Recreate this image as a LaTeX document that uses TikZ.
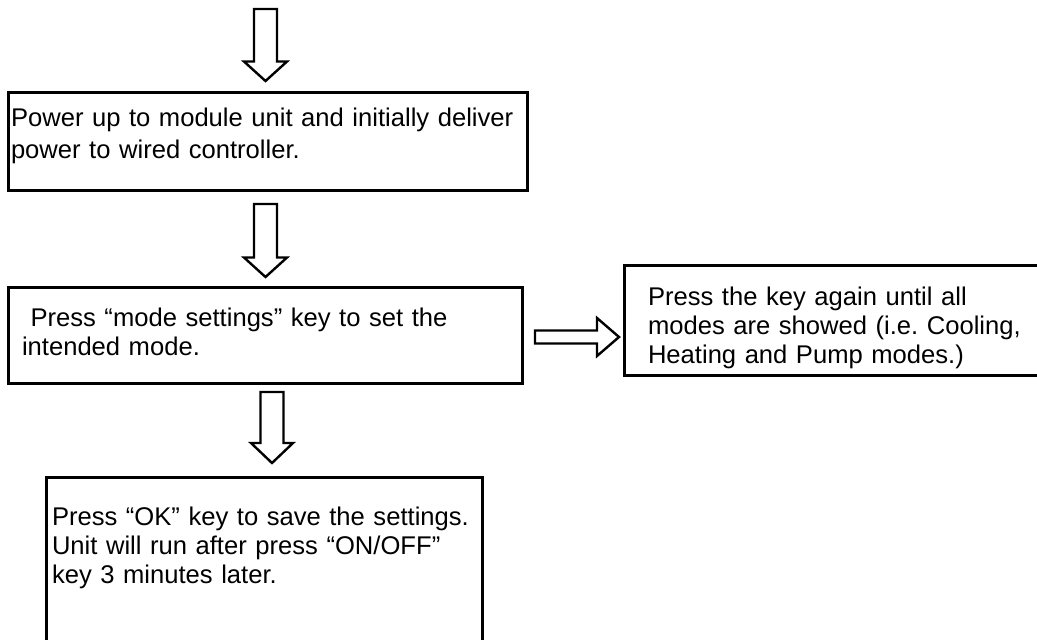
\documentclass[tikz,border=0pt]{standalone}
\usepackage{fontspec}
\setmainfont{Liberation Sans}
\frenchspacing
\usetikzlibrary{calc}

% hollow block arrow: from, to, half shaft, half head, head length
\newcommand{\fatarrow}[5]{%
  \coordinate (fahead) at ($(#2)!#5!(#1)$);
  \draw[hollow] ($(#1)!#3!90:(#2)$) -- ($(fahead)!#3!90:(#2)$)
    -- ($(fahead)!#4!90:(#2)$) -- (#2) -- ($(fahead)!#4!-90:(#2)$)
    -- ($(fahead)!#3!-90:(#2)$) -- ($(#1)!#3!-90:(#2)$) -- cycle;}

\begin{document}
\begin{tikzpicture}[
    x=0.5pt, y=-0.5pt,
    font=\fontsize{12.8}{14.5}\selectfont,
    box/.style={draw, line width=1.5pt, anchor=north west, align=left,
                inner ysep=0pt, outer sep=0pt},
    hollow/.style={draw, line width=1.2pt, fill=white},
]
\path[use as bounding box, clip] (0,0) rectangle (1037,639);

\node[box, inner xsep=1.5pt, text width=256.5pt, text height=17pt, text depth=32pt,
      font=\fontsize{12.8}{16}\selectfont] (power) at (8,92)
      {Power up to module unit and initially deliver\\power to wired controller.};
\node[box, inner xsep=7pt, text width=243pt, text height=19.5pt, text depth=28.5pt]
      (mode) at (8,287) {\ Press “mode settings” key to set the\\intended mode.};
\node[box, inner xsep=12pt, text width=191pt, text height=20pt, text depth=35pt]
      (again) at (624,265)
      {Press the key again until all\\modes are showed (i.e. Cooling,\\Heating and Pump modes.)};
\node[box, inner xsep=3pt, text width=212pt, text height=24pt, text depth=61pt]
      (save) at (46,477)
      {Press “OK” key to save the settings.\\Unit will run after press “ON/OFF”\\key 3 minutes later.};

% arrows
\coordinate (feed) at (265.5,9);
\coordinate (t1) at ($(power.north)+(-2,-11)$);
\fatarrow{feed}{t1}{5.75pt}{10.75pt}{9.75pt}

\coordinate (s2) at ($(power.south)+(-2,14)$);
\coordinate (t2) at ($(mode.north)+(0.5,-10)$);
\fatarrow{s2}{t2}{5.75pt}{10.75pt}{9.75pt}

\coordinate (s3) at ($(mode.south)+(7,9)$);
\coordinate (t3) at ($(save.north)+(8,-14)$);
\fatarrow{s3}{t3}{5.75pt}{10.5pt}{10pt}

\coordinate (s4) at ($(mode.east)+(13,2)$);
\coordinate (t4) at ($(again.west)+(-5,17)$);
\fatarrow{s4}{t4}{3.25pt}{9.5pt}{11pt}

\end{tikzpicture}
\end{document}
